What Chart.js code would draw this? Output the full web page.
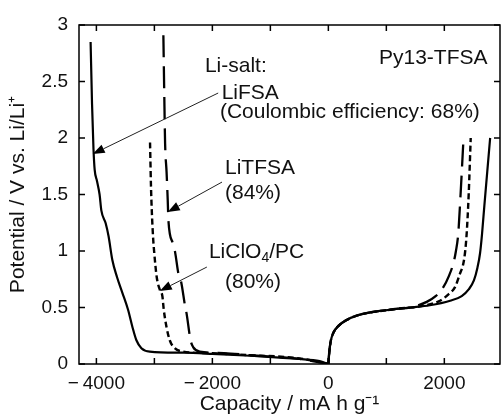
<!DOCTYPE html>
<html>
<head>
<meta charset="utf-8">
<script src="https://cdn.jsdelivr.net/npm/chart.js@4/dist/chart.umd.min.js"></script>
<style>
	body { margin: 0; background: #fff; }
	#wrap { width: 502px; height: 419px; }
</style>
</head>
<body>
<div id="wrap"><canvas id="chart"></canvas></div>
<script>
// discharge branches (negative capacity)
const fsaDisCap = [-4100, -4075, -4050, -4030, -3990, -3945, -3915, -3840, -3790, -3725, -3645, -3552, -3454, -3380, -3310, -3224, -3080, -2500, -2000, -1350, -500, -150, 0]
const fsaDisPot = [2.85, 2.3, 1.9, 1.72, 1.62, 1.5, 1.36, 1.245, 1.13, 0.92, 0.77, 0.63, 0.48, 0.33, 0.21, 0.14, 0.11, 0.10, 0.09, 0.073, 0.045, 0.025, 0]
const tfsaDisCap = [-2845, -2830, -2815, -2790, -2770, -2758, -2683, -2643, -2586, -2540, -2470, -2446, -2376, -2332, -2217, -1800, -1350, -500, 0]
const tfsaDisPot = [2.91, 2.4, 1.95, 1.7, 1.45, 1.27, 1.07, 0.99, 0.8, 0.73, 0.51, 0.45, 0.21, 0.15, 0.11, 0.097, 0.078, 0.045, 0]
const clo4DisCap = [-3075, -3060, -3045, -3020, -3005, -2960, -2902, -2862, -2838, -2792, -2735, -2649, -2500, -2000, -1350, -500, 0]
const clo4DisPot = [1.96, 1.6, 1.36, 1.1, 1.0, 0.77, 0.65, 0.6, 0.48, 0.33, 0.21, 0.14, 0.11, 0.095, 0.078, 0.05, 0]

// charge branches (positive capacity)
const fsaChgCap = [0, 15, 40, 90, 180, 317, 500, 700, 1063, 1408, 1750, 2100, 2300, 2420, 2510, 2570, 2616, 2650, 2690, 2740, 2790]
const fsaChgPot = [0, 0.1, 0.2, 0.28, 0.34, 0.39, 0.43, 0.455, 0.48, 0.5, 0.52, 0.56, 0.6, 0.66, 0.74, 0.85, 0.98, 1.15, 1.4, 1.7, 2.0]
const tfsaChgCap = [0, 15, 40, 90, 180, 317, 500, 700, 1063, 1200, 1408, 1696, 1850, 1983, 2080, 2155, 2200, 2241, 2280, 2328]
const tfsaChgPot = [0, 0.1, 0.2, 0.28, 0.34, 0.39, 0.43, 0.455, 0.48, 0.49, 0.5, 0.55, 0.6, 0.68, 0.78, 0.89, 1.0, 1.16, 1.5, 1.97]
const clo4ChgCap = [0, 15, 40, 90, 180, 317, 500, 700, 1063, 1200, 1580, 1925, 2080, 2184, 2270, 2328, 2360, 2386, 2420, 2455]
const clo4ChgPot = [0, 0.1, 0.2, 0.28, 0.34, 0.39, 0.43, 0.455, 0.48, 0.49, 0.51, 0.56, 0.62, 0.68, 0.8, 0.89, 1.0, 1.16, 1.5, 2.0]

const xTickValues = [-4000, -3000, -2000, -1000, 0, 1000, 2000]
const xTickLabels = ['\u2212\u20094000', '', '\u2212\u20092000', '', '0', '', '2000']
const yTickValues = [0, 0.5, 1, 1.5, 2, 2.5, 3]
const yTickLabels = ['0', '0.5', '1', '1.5', '2', '2.5', '3']

// annotation texts (data coordinates)
const noteTexts = ['Py13-TFSA', 'Li-salt:', 'LiFSA', '(Coulombic efficiency: 68%)', 'LiTFSA', '(84%)', 'LiClO|4|/PC', '(80%)']
const noteX = [2744, -2129, -1840, -1870, -1783, -1783, -2060, -1783]
const noteY = [2.705, 2.633, 2.40, 2.226, 1.735, 1.51, 0.987, 0.721]
const noteAlign = ['right', 'left', 'left', 'left', 'left', 'left', 'left', 'left']

// arrows: start -> tip (data coordinates)
const arrowFromX = [-1900, -1834, -2095]
const arrowFromY = [2.398, 1.61, 0.858]
const arrowToX = [-4064, -2769, -2907]
const arrowToY = [1.858, 1.345, 0.646]

const FONT = "'Liberation Sans', Arial, sans-serif"
const INK = '#111'

function pts(xs, ys) {
	return xs.map((x, i) => ({ x: x, y: ys[i] }))
}

function curve(xs, ys, dash, width) {
	return {
		data: pts(xs, ys),
		borderColor: '#000',
		borderWidth: width,
		borderDash: dash,
		pointRadius: 0,
		fill: false,
		cubicInterpolationMode: 'monotone'
	}
}

const SOLID = []
const LONG = [22, 9]
const SHORT = [6, 3.5]

const frame = {
	id: 'frame',
	afterDraw(chart) {
		const { ctx, chartArea: a, scales } = chart
		const xs = scales.x, ys = scales.y
		ctx.save()
		ctx.strokeStyle = '#000'
		ctx.lineWidth = 1.5
		ctx.strokeRect(a.left, a.top, a.right - a.left, a.bottom - a.top)
		ctx.beginPath()
		const len = 6
		for (const v of xTickValues) {
			const px = xs.getPixelForValue(v)
			ctx.moveTo(px, a.bottom); ctx.lineTo(px, a.bottom - len)
			ctx.moveTo(px, a.top); ctx.lineTo(px, a.top + len)
		}
		for (const v of yTickValues) {
			const py = ys.getPixelForValue(v)
			ctx.moveTo(a.left, py); ctx.lineTo(a.left + len, py)
			ctx.moveTo(a.right, py); ctx.lineTo(a.right - len, py)
		}
		ctx.stroke()

		// notes
		ctx.fillStyle = INK
		ctx.textBaseline = 'middle'
		noteTexts.forEach((t, i) => {
			let px = xs.getPixelForValue(noteX[i])
			const py = ys.getPixelForValue(noteY[i])
			ctx.textAlign = noteAlign[i]
			if (t.indexOf('|') < 0) {
				ctx.font = '21px ' + FONT
				ctx.fillText(t, px, py)
			} else {
				const parts = t.split('|')
				ctx.textAlign = 'left'
				ctx.font = '21px ' + FONT
				ctx.fillText(parts[0], px, py)
				px += ctx.measureText(parts[0]).width
				ctx.font = '14px ' + FONT
				ctx.fillText(parts[1], px, py + 6)
				px += ctx.measureText(parts[1]).width
				ctx.font = '21px ' + FONT
				ctx.fillText(parts[2], px, py)
			}
		})

		// arrows
		ctx.lineWidth = 1
		ctx.strokeStyle = '#222'
		ctx.fillStyle = '#000'
		arrowFromX.forEach((_, i) => {
			const x0 = xs.getPixelForValue(arrowFromX[i]), y0 = ys.getPixelForValue(arrowFromY[i])
			const x1 = xs.getPixelForValue(arrowToX[i]), y1 = ys.getPixelForValue(arrowToY[i])
			const ang = Math.atan2(y1 - y0, x1 - x0), L = 12, W = 4.5
			const bx = x1 - L * Math.cos(ang), by = y1 - L * Math.sin(ang)
			ctx.beginPath()
			ctx.moveTo(x0, y0); ctx.lineTo(bx, by)
			ctx.stroke()
			ctx.beginPath()
			ctx.moveTo(x1, y1)
			ctx.lineTo(bx + W * Math.sin(ang), by - W * Math.cos(ang))
			ctx.lineTo(bx - W * Math.sin(ang), by + W * Math.cos(ang))
			ctx.closePath()
			ctx.fill()
		})
		ctx.restore()
	}
}

new Chart(document.getElementById('chart'), {
	type: 'line',
	data: {
		datasets: [
			curve(fsaDisCap, fsaDisPot, SOLID, 2.2),
			curve(fsaChgCap, fsaChgPot, SOLID, 2.2),
			curve(tfsaDisCap, tfsaDisPot, LONG, 2.3),
			curve(tfsaChgCap, tfsaChgPot, LONG, 2.3),
			curve(clo4DisCap, clo4DisPot, SHORT, 2.4),
			curve(clo4ChgCap, clo4ChgPot, SHORT, 2.4)
		]
	},
	plugins: [frame],
	options: {
		responsive: true,
		maintainAspectRatio: false,
		animation: false,
		layout: { padding: { top: 25, right: 2, left: 0, bottom: 0 } },
		plugins: { legend: { display: false }, tooltip: { enabled: false } },
		scales: {
			x: {
				type: 'linear',
				min: -4300,
				max: 2960,
				grid: { display: false, drawTicks: false },
				border: { display: false },
				afterBuildTicks: (s) => { s.ticks = xTickValues.map(v => ({ value: v })) },
				afterFit: (s) => { s.height = 55 },
				ticks: {
					color: INK,
					padding: 8,
					autoSkip: false,
					maxRotation: 0,
					font: { size: 19, family: FONT },
					callback: (v) => xTickLabels[xTickValues.indexOf(v)]
				},
				title: {
					display: true,
					text: 'Capacity / mA h g\u207B\u00B9',
					color: INK,
					font: { size: 21, family: FONT },
					padding: { top: 0, bottom: 2 }
				}
			},
			y: {
				min: 0,
				max: 3,
				grid: { display: false, drawTicks: false },
				border: { display: false },
				afterBuildTicks: (s) => { s.ticks = yTickValues.map(v => ({ value: v })) },
				afterFit: (s) => { s.width = 79 },
				ticks: {
					color: INK,
					padding: 11,
					font: { size: 19, family: FONT },
					callback: (v) => yTickLabels[yTickValues.indexOf(v)]
				},
				title: {
					display: true,
					text: 'Potential / V vs. Li/Li\u207A',
					color: INK,
					font: { size: 21, family: FONT },
					padding: { top: 6, bottom: 0 }
				}
			}
		}
	}
})
</script>
</body>
</html>
